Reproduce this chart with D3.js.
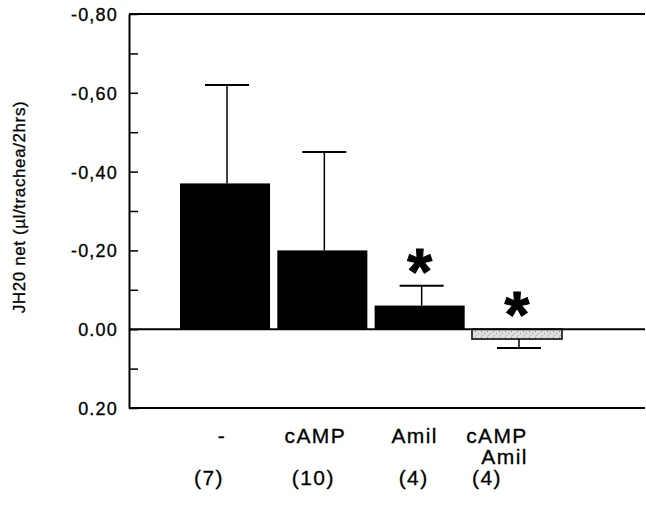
<!DOCTYPE html>
<html>
<head>
<meta charset="utf-8">
<script src="https://cdn.jsdelivr.net/npm/d3@7"></script>
<style>
  html, body { margin: 0; padding: 0; background: #fff; }
  svg { display: block; font-family: "Liberation Sans", Arial, Helvetica, sans-serif; }
  .ink { fill: #000; stroke: #000; stroke-width: 0.3px; }
</style>
</head>
<body>
<svg id="chart" width="646" height="521"></svg>
<script>
// Net water flux per trachea over 2 hours (negative = absorption, drawn upward)
const categories = ["-", "cAMP", "Amil", "cAMP\nAmil"];
const means = [-0.37, -0.20, -0.06, 0.025];
const sems = [0.25, 0.25, 0.05, 0.023];
const nLabels = ["(7)", "(10)", "(4)", "(4)"];
const significant = [false, false, true, true];
const tickValues = [-0.8, -0.7, -0.6, -0.5, -0.4, -0.3, -0.2, -0.1, 0.0, 0.1, 0.2];
const tickLabels = { "-0.8": "-0,80", "-0.6": "-0,60", "-0.4": "-0,40", "-0.2": "-0,20", "0": "0.00", "0.2": "0.20" };
const yTitle = "JH20 net (µl/trachea/2hrs)";

const svg = d3.select("#chart");
const W = 646;
const axisX = 129, plotTop = 14, plotBottom = 408;

// horizontal nudges of the label rows relative to each bar centre
const catNudge = [-3, -7, -5, -20];
const nNudge = [-16, -9, -6, -30];

const y = d3.scaleLinear().domain([-0.8, 0.2]).range([plotTop, plotBottom]);
const x = d3.scaleBand().domain(categories).range([180, 562]).paddingInner(0.075).paddingOuter(0);

// light stippled fill for the combined treatment bar
const defs = svg.append("defs");
const pat = defs.append("pattern").attr("id", "stipple").attr("patternUnits", "userSpaceOnUse")
  .attr("width", 6).attr("height", 6);
pat.append("rect").attr("width", 6).attr("height", 6).attr("fill", "#dedede");
pat.append("rect").attr("x", 1).attr("y", 1).attr("width", 1).attr("height", 1).attr("fill", "#888");
pat.append("rect").attr("x", 4).attr("y", 3).attr("width", 1).attr("height", 1).attr("fill", "#999");
pat.append("rect").attr("x", 2).attr("y", 5).attr("width", 1).attr("height", 1).attr("fill", "#aaa");

const g = svg.append("g");

// frame lines: top, bottom
g.append("line").attr("x1", axisX).attr("x2", W - 1).attr("y1", y(-0.8)).attr("y2", y(-0.8))
  .attr("stroke", "#000").attr("stroke-width", 2);
g.append("line").attr("x1", axisX).attr("x2", W - 1).attr("y1", y(0.2)).attr("y2", y(0.2))
  .attr("stroke", "#000").attr("stroke-width", 2);

// left axis with inward ticks
const yAxis = d3.axisLeft(y)
  .tickValues(tickValues)
  .tickSizeInner(-9).tickSizeOuter(0).tickPadding(11)
  .tickFormat(d => tickLabels[String(+d.toFixed(1))] || "");
const ax = g.append("g").attr("transform", `translate(${axisX},0)`).call(yAxis);
ax.select(".domain").attr("stroke", "#000").attr("stroke-width", 2);
ax.selectAll(".tick line").attr("stroke", "#000").attr("stroke-width", 1.5);
ax.selectAll(".tick text").attr("class", "ink").style("font-size", "18px")
  .style("letter-spacing", "1.2px").attr("dy", "0.36em");

// y axis title
svg.append("text").attr("class", "ink")
  .attr("transform", `translate(25,${(plotTop + plotBottom) / 2 - 4}) rotate(-90)`)
  .attr("text-anchor", "middle")
  .style("font-size", "17px").style("letter-spacing", "0.6px")
  .text(yTitle);

// bars
const data = categories.map((c, i) => ({ c, i, m: means[i], s: sems[i], n: nLabels[i], sig: significant[i] }));
g.selectAll("rect.bar").data(data).join("rect").attr("class", "bar")
  .attr("x", d => x(d.c))
  .attr("width", x.bandwidth())
  .attr("y", d => Math.min(y(d.m), y(0)))
  .attr("height", d => Math.abs(y(d.m) - y(0)))
  .attr("fill", d => d.m < 0 ? "#000" : "url(#stipple)")
  .attr("stroke", "#000").attr("stroke-width", d => d.m < 0 ? 0 : 1.5);

// error bars (one-sided, away from zero)
const capW = 44;
const errEnd = d => d.m + Math.sign(d.m) * d.s;
const ex = d => x(d.c) + x.bandwidth() / 2 + 2;
const err = g.selectAll("g.err").data(data).join("g").attr("class", "err");
err.append("line")
  .attr("x1", ex).attr("x2", ex)
  .attr("y1", d => y(d.m)).attr("y2", d => y(errEnd(d)))
  .attr("stroke", "#000").attr("stroke-width", 1.5);
err.append("line")
  .attr("x1", d => ex(d) - capW / 2).attr("x2", d => ex(d) + capW / 2)
  .attr("y1", d => y(errEnd(d))).attr("y2", d => y(errEnd(d)))
  .attr("stroke", "#000").attr("stroke-width", 2);

// zero line
g.append("line").attr("x1", axisX).attr("x2", W - 1).attr("y1", y(0)).attr("y2", y(0))
  .attr("stroke", "#000").attr("stroke-width", 2);

// significance markers
g.selectAll("text.sig").data(data.filter(d => d.sig)).join("text").attr("class", "sig ink")
  .attr("x", d => x(d.c) + x.bandwidth() / 2)
  .attr("y", d => Math.min(y(0), y(errEnd(d))) + 8)
  .attr("text-anchor", "middle")
  .style("font-size", "64px").style("font-weight", "bold").style("stroke-width", "1px")
  .text("*");

// category labels (extra lines right-aligned under the first line) and group sizes
const catG = svg.append("g");
const labelStyle = sel => sel.attr("class", "ink").style("font-size", "21px").style("letter-spacing", "1.4px");
data.forEach(d => {
  const lines = d.c.split("\n");
  const cx = x(d.c) + x.bandwidth() / 2 + catNudge[d.i];
  const first = catG.append("text").call(labelStyle)
    .attr("x", cx).attr("y", 443).attr("text-anchor", "middle")
    .text(lines[0]);
  if (lines.length > 1) {
    const w = first.node().getComputedTextLength();
    lines.slice(1).forEach((t, k) => {
      catG.append("text").call(labelStyle)
        .attr("x", cx + w / 2).attr("y", 443 + 21 * (k + 1)).attr("text-anchor", "end")
        .text(t);
    });
  }
  catG.append("text").call(labelStyle)
    .attr("x", x(d.c) + x.bandwidth() / 2 + nNudge[d.i]).attr("y", 485).attr("text-anchor", "middle")
    .text(d.n);
});
</script>
</body>
</html>
